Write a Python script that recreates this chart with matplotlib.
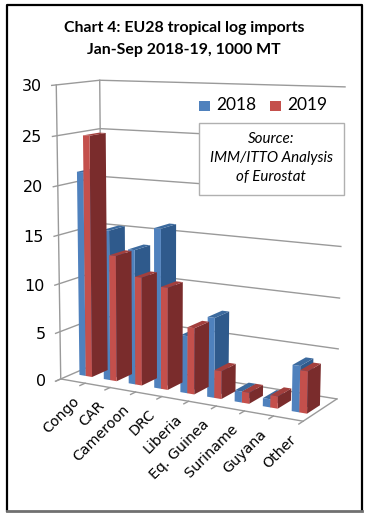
import matplotlib
matplotlib.use('Agg')
import matplotlib.pyplot as plt
import numpy as np

categories = ['Congo', 'CAR', 'Cameroon', 'DRC', 'Liberia', 'Eq. Guinea', 'Suriname', 'Guyana', 'Other']
vals_2018 = [21.2, 15.5, 13.8, 16.2, 5.8, 8.0, 1.1, 0.8, 4.5]
vals_2019 = [24.9, 13.0, 11.1, 10.4, 6.7, 2.8, 1.1, 1.2, 4.1]
yticks = [0, 5, 10, 15, 20, 25, 30]
title_lines = ['Chart 4: EU28 tropical log imports', 'Jan-Sep 2018-19, 1000 MT']
source_lines = ['Source:', 'IMM/ITTO Analysis', 'of Eurostat']

W, H = 380, 523

# box corners in pixels (cat, depth, value) -> (px, py), used to fit the perspective
corners = [((0, 0, 0), (62, 380)), ((9, 0, 0), (302, 421)), ((9, 1, 0), (338, 399)),
           ((0, 1, 0), (101, 360)), ((0, 0, 30), (56, 84)), ((0, 1, 30), (100, 81)),
           ((9, 1, 30), (345, 87))]

A = []
b = []
for (x, d, v), (px, py) in corners:
    A.append([x, d, v, 1, 0, 0, 0, 0, -px*x, -px*d, -px*v])
    A.append([0, 0, 0, 0, x, d, v, 1, -py*x, -py*d, -py*v])
    b += [px, py]
P = np.linalg.lstsq(np.array(A, float), np.array(b, float), rcond=None)[0]
P = np.append(P, 1).reshape(3, 4)


def proj(x, d, v):
    u = P @ np.array([x, d, v, 1.0])
    return u[0]/u[2], u[1]/u[2]


def face(ax, pts, color, z):
    xy = [proj(*p) for p in pts]
    ax.fill([q[0] for q in xy], [q[1] for q in xy], color=color, lw=0, zorder=z)


def grid(ax, pts):
    xy = [proj(*p) for p in pts]
    ax.plot([q[0] for q in xy], [q[1] for q in xy], color='#9a9a9a', lw=1.0, zorder=1)


def bar3(ax, x0, x1, d0, d1, v, cols, z):
    face(ax, [(x1, d0, 0), (x1, d1, 0), (x1, d1, v), (x1, d0, v)], cols[1], z)
    face(ax, [(x0, d0, v), (x1, d0, v), (x1, d1, v), (x0, d1, v)], cols[2], z)
    face(ax, [(x0, d0, 0), (x1, d0, 0), (x1, d0, v), (x0, d0, v)], cols[0], z + 0.1)


fig = plt.figure(figsize=(W/100, H/100), dpi=100)
ax = fig.add_axes([0, 0, 1, 1])
ax.set_xlim(0, W)
ax.set_ylim(H, 0)
ax.axis('off')

# black frame of the clipped picture, bottom edge is grey
ax.plot([6.5, 6.5, 362, 362], [511, 5, 5, 511], color='k', lw=1.6, zorder=5)
ax.plot([6.5, 362], [511, 511], color='#707070', lw=2.0, zorder=5)

for t in yticks:
    grid(ax, [(0, -0.1, t), (0, 0, t), (0, 1, t), (9, 1, t)])
    tx, ty = proj(0, -0.1, t)
    ax.text(tx - 10, ty + 1, str(t), ha='right', va='center', fontsize=11.5, color='k')
grid(ax, [(0, 0, 0), (0, 0, 30)])
grid(ax, [(0, 1, 0), (0, 1, 30)])
grid(ax, [(0, 0, 0), (9, 0, 0), (9, 1, 0)])

blue = ('#4f81bd', '#2f5a8c', '#3c6a9e')
red = ('#c4504c', '#7a2c2c', '#a33f3d')
depth0, depth1 = 0.28, 0.66
n = len(categories)
for i in range(n - 1, -1, -1):
    z = 2 + (n - i)
    bar3(ax, i + 0.28, i + 0.54, depth0, depth1, vals_2018[i], blue, z)
    bar3(ax, i + 0.54, i + 0.8, depth0, depth1, vals_2019[i], red, z + 0.3)

for i, name in enumerate(categories):
    grid(ax, [(i, 0, 0), (i, -0.12, 0)])
    tx, ty = proj(i + 0.5, -0.2, 0)
    ax.text(tx + 8, ty + 9, name, rotation=45, rotation_mode='anchor', ha='right', va='top',
            fontsize=10.3, color='k', zorder=6)
grid(ax, [(9, 0, 0), (9, -0.12, 0)])

for line, y in zip(title_lines, [28, 50]):
    ax.text(184, y, line, ha='center', va='center', family='Lato', fontweight='bold', fontsize=11.4)

# legend
ax.fill([199, 210, 210, 199], [101, 101, 111, 111], color='#4f81bd', lw=0, zorder=6)
ax.text(216, 105.5, '2018', va='center', family='Lato', fontsize=12.5, zorder=6)
ax.fill([270, 281, 281, 270], [101, 101, 111, 111], color='#c4504c', lw=0, zorder=6)
ax.text(287, 105.5, '2019', va='center', family='Lato', fontsize=12.5, zorder=6)

ax.fill([198.5, 344, 344, 198.5], [123, 123, 195, 195], facecolor='white', edgecolor='#b0b0b0', lw=1, zorder=6)
for line, y in zip(source_lines, [139, 158, 177]):
    ax.text(271, y, line, ha='center', va='center', style='italic', family='Lato', fontsize=10.9, zorder=7)

fig.savefig('out.png', dpi=100)
